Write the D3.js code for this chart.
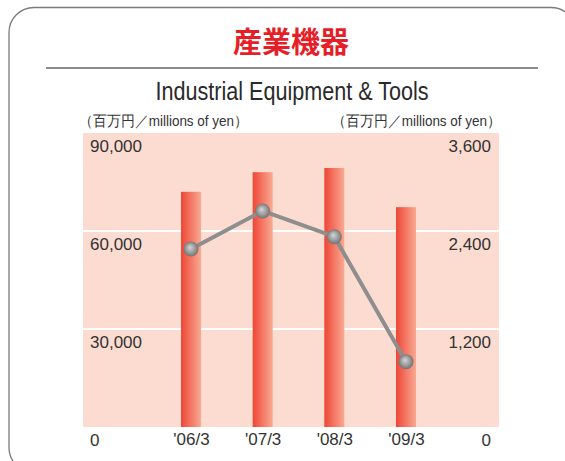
<!DOCTYPE html>
<html>
<head>
<meta charset="utf-8">
<script src="https://cdn.jsdelivr.net/npm/d3@7"></script>
<style>
  body { margin: 0; background: #fff; }
  svg { display: block; }
  text { font-family: "Liberation Sans", Arial, sans-serif; fill: #333; }
</style>
</head>
<body>
<div id="chart"></div>
<script>
// valeurs
var periods = ["'06/3", "'07/3", "'08/3", "'09/3"];
var sales = [72000, 78000, 79300, 67300];      // barres, axe gauche
var profit = [2180, 2645, 2330, 800];          // ligne, axe droit
var leftTicks = [0, 30000, 60000, 90000];
var rightTicks = [0, 1200, 2400, 3600];
var gridTicks = [30000, 60000];

var W = 565, H = 461;
var plot = {x0: 83, x1: 499, y0: 133, y1: 427};

var svg = d3.select("#chart").append("svg")
    .attr("width", W).attr("height", H);

var defs = svg.append("defs");
var gb = defs.append("linearGradient").attr("id", "barGrad")
    .attr("x1", "0").attr("x2", "1").attr("y1", "0").attr("y2", "0");
gb.append("stop").attr("offset", "0").attr("stop-color", "#ee4636");
gb.append("stop").attr("offset", "1").attr("stop-color", "#f9aa92");

var gs = defs.append("radialGradient").attr("id", "ballGrad")
    .attr("cx", "0.5").attr("cy", "0.5").attr("r", "0.55")
    .attr("fx", "0.42").attr("fy", "0.38");
gs.append("stop").attr("offset", "0").attr("stop-color", "#d6d6d6");
gs.append("stop").attr("offset", "0.6").attr("stop-color", "#979797");
gs.append("stop").attr("offset", "1").attr("stop-color", "#6a6a6a");

// cadre arrondi
svg.append("rect")
    .attr("x", 9).attr("y", 7.5).attr("width", 567).attr("height", 465)
    .attr("rx", 25).attr("ry", 25)
    .attr("fill", "none").attr("stroke", "#7a7a7a").attr("stroke-width", 1.3);

// titres
svg.append("text")
    .attr("x", 291).attr("y", 53)
    .attr("text-anchor", "middle")
    .style("font-family", "'Noto Sans CJK JP', sans-serif")
    .style("font-weight", "bold").style("font-size", "29px")
    .style("fill", "#e61e28")
    .text("産業機器");

svg.append("line")
    .attr("x1", 46).attr("x2", 538).attr("y1", 68).attr("y2", 68)
    .attr("stroke", "#8a8a8a").attr("stroke-width", 2);

svg.append("text")
    .attr("x", 292).attr("y", 100)
    .attr("text-anchor", "middle")
    .attr("textLength", 273).attr("lengthAdjust", "spacingAndGlyphs")
    .style("font-family", "'Liberation Sans Narrow', 'Liberation Sans', sans-serif")
    .style("font-size", "25px").style("fill", "#2a2a2a")
    .text("Industrial Equipment & Tools");

var unit = "（百万円／millions of yen）";
svg.append("text")
    .attr("x", 79).attr("y", 126)
    .attr("textLength", 169).attr("lengthAdjust", "spacingAndGlyphs")
    .style("font-size", "14.5px")
    .text(unit);
svg.append("text")
    .attr("x", 501).attr("y", 126)
    .attr("text-anchor", "end")
    .attr("textLength", 169).attr("lengthAdjust", "spacingAndGlyphs")
    .style("font-size", "14.5px")
    .text(unit);

// échelles
var yLeft = d3.scaleLinear().domain([0, 90000]).range([plot.y1, plot.y0]);
var yRight = d3.scaleLinear().domain([0, 3600]).range([plot.y1, plot.y0]);
var x = d3.scalePoint().domain(periods).range([191, 406]);
var barW = 20;

// fond
svg.append("rect")
    .attr("x", plot.x0).attr("y", plot.y0)
    .attr("width", plot.x1 - plot.x0).attr("height", plot.y1 - plot.y0)
    .attr("fill", "#fcdcd0");

svg.selectAll(".grid").data(gridTicks).enter().append("line")
    .attr("x1", plot.x0).attr("x2", plot.x1)
    .attr("y1", d => yLeft(d)).attr("y2", d => yLeft(d))
    .attr("stroke", "#fff").attr("stroke-width", 2);

// barres
svg.selectAll(".bar").data(sales).enter().append("rect")
    .attr("x", (d, i) => x(periods[i]) - barW / 2)
    .attr("y", d => yLeft(d))
    .attr("width", barW)
    .attr("height", d => plot.y1 - yLeft(d))
    .attr("fill", "url(#barGrad)");

// ligne
var line = d3.line()
    .x((d, i) => x(periods[i]))
    .y(d => yRight(d));
svg.append("path").datum(profit)
    .attr("d", line)
    .attr("fill", "none").attr("stroke", "#8e8e8e").attr("stroke-width", 4);

svg.selectAll(".pt").data(profit).enter().append("circle")
    .attr("cx", (d, i) => x(periods[i]))
    .attr("cy", d => yRight(d))
    .attr("r", 7.5)
    .attr("fill", "url(#ballGrad)");

// axes
var fmt = d3.format(",");
var gL = svg.append("g").attr("transform", "translate(90,0)")
    .call(d3.axisRight(yLeft).tickValues(leftTicks).tickSize(0).tickFormat(fmt));
var gR = svg.append("g").attr("transform", "translate(491,0)")
    .call(d3.axisLeft(yRight).tickValues(rightTicks).tickSize(0).tickFormat(fmt));
var gX = svg.append("g").attr("transform", "translate(0," + plot.y1 + ")")
    .call(d3.axisBottom(x).tickSize(0));

[gL, gR, gX].forEach(function(g){
    g.select(".domain").remove();
    g.selectAll("text")
        .attr("fill", null)
        .attr("dy", null)
        .style("font-size", "17px")
        .style("font-family", "'Liberation Sans', Arial, sans-serif");
});
gL.selectAll("text").attr("x", 0).attr("y", 18).attr("text-anchor", "start");
gR.selectAll("text").attr("x", 0).attr("y", 18).attr("text-anchor", "end");
gX.selectAll("text").attr("y", 18).attr("text-anchor", "middle");
</script>
</body>
</html>
